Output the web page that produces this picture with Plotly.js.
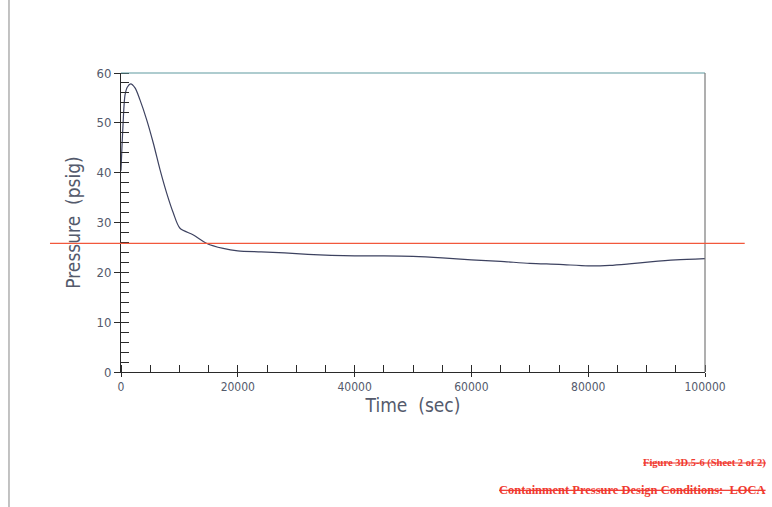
<!DOCTYPE html>
<html>
<head>
<meta charset="utf-8">
<script src="https://cdn.plot.ly/plotly-3.0.1.min.js"></script>
<style>html,body{margin:0;padding:0;background:#fff;}#chart{width:772px;height:507px;}</style>
</head>
<body>
<div id="chart"></div>
<script>
// Containment pressure vs time
var timeSec = [0, 300, 690, 1100, 1660, 2400, 3250, 4400, 5540, 6680, 7820, 8960, 10100, 12400, 14700, 17500, 20000, 24000, 28000, 32000, 36000, 40000, 45000, 50000, 55000, 60000, 65000, 70000, 75000, 80000, 83700, 87000, 90600, 95000, 100000];
var pressurePsig = [40.4, 48.5, 55.6, 57.2, 57.8, 57.0, 54.6, 50.6, 45.9, 40.6, 35.9, 31.9, 28.85, 27.5, 25.8, 24.8, 24.3, 24.1, 23.9, 23.6, 23.4, 23.3, 23.3, 23.2, 22.9, 22.5, 22.2, 21.8, 21.6, 21.3, 21.4, 21.7, 22.1, 22.5, 22.75];
var designLimitPsig = 25.8;
var yTickVals = [0, 10, 20, 30, 40, 50, 60];
var xTickVals = [0, 20000, 40000, 60000, 80000, 100000];
var xTickText = ['0', '20000', '40000', '60000', '80000', '100000'];
var captionLine1 = 'Figure 3D.5-6 (Sheet 2 of 2)';
var captionLine2 = 'Containment Pressure Design Conditions:  LOCA';

var labelColor = '#545a6c';
var fontFam = '"DejaVu Sans Condensed", "DejaVu Sans", sans-serif';

var trace = {
  x: timeSec, y: pressurePsig, type: 'scatter', mode: 'lines',
  line: {color: '#3d4260', width: 1.2, shape: 'spline', smoothing: 0.8},
  hoverinfo: 'skip', showlegend: false
};

var layout = {
  width: 772, height: 507,
  margin: {l: 121, r: 67, t: 73, b: 135},
  paper_bgcolor: '#ffffff', plot_bgcolor: '#ffffff',
  showlegend: false,
  xaxis: {
    range: [0, 100000], tickvals: xTickVals, ticktext: xTickText,
    showgrid: false, zeroline: false,
    showline: true, linecolor: '#2a2a2a', linewidth: 1,
    ticks: 'outside', ticklen: 4, tickcolor: '#2a2a2a',
    minor: {dtick: 5000, ticks: 'inside', ticklen: 7, tickcolor: '#2a2a2a', showgrid: false},
    tickfont: {family: fontFam, size: 12, color: labelColor},
    title: {text: 'Time  (sec)', font: {family: fontFam, size: 19, color: labelColor}, standoff: 4}
  },
  yaxis: {
    range: [0, 60], tickvals: yTickVals,
    showgrid: false, zeroline: false,
    showline: true, linecolor: '#2a2a2a', linewidth: 1,
    ticks: 'outside', ticklen: 6, tickcolor: '#2a2a2a',
    minor: {dtick: 2, ticks: 'inside', ticklen: 8, tickcolor: '#2a2a2a', showgrid: false},
    tickfont: {family: fontFam, size: 13, color: labelColor},
    title: {text: 'Pressure  (psig)', font: {family: fontFam, size: 19, color: labelColor}, standoff: 10}
  },
  shapes: [
    {type: 'line', xref: 'paper', yref: 'paper', x0: 0, x1: 1, y0: 1, y1: 1, line: {color: '#5f9aa0', width: 1.2}},
    {type: 'line', xref: 'paper', yref: 'paper', x0: 1, x1: 1, y0: 0, y1: 1, line: {color: '#7a7a7a', width: 1.2}},
    {type: 'line', xref: 'paper', yref: 'y', x0: -0.1216, x1: 1.068, y0: designLimitPsig, y1: designLimitPsig, line: {color: '#f2583c', width: 1.3}},
    {type: 'line', xref: 'paper', yref: 'paper', x0: -0.1918, x1: -0.1918, y0: -0.46, y1: 1.25, line: {color: '#9a9a9a', width: 1.2}}
  ],
  annotations: [
    {xref: 'paper', yref: 'paper', x: (768 - 121) / 584, y: (372 - 463) / 299, xanchor: 'right', yanchor: 'middle',
     text: '<b><s>' + captionLine1 + '</s></b>', showarrow: false,
     font: {family: '"Liberation Serif", serif', size: 10.5, color: '#f03a30'}},
    {xref: 'paper', yref: 'paper', x: (768 - 121) / 584, y: (372 - 490) / 299, xanchor: 'right', yanchor: 'middle',
     text: '<b><s>' + captionLine2 + '</s></b>', showarrow: false,
     font: {family: '"Liberation Serif", serif', size: 12.5, color: '#f03a30'}}
  ]
};

Plotly.newPlot('chart', [trace], layout, {staticPlot: true, displayModeBar: false});
</script>
</body>
</html>
